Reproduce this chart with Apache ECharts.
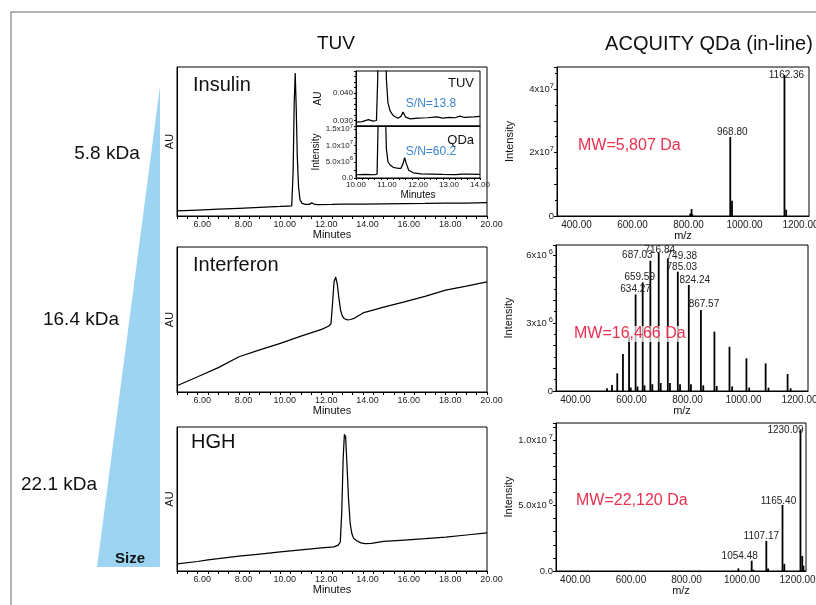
<!DOCTYPE html>
<html><head><meta charset="utf-8">
<script src="https://cdn.jsdelivr.net/npm/echarts@6/dist/echarts.min.js"></script>
<style>html,body{margin:0;padding:0;background:#fff}#c{width:816px;height:605px}</style>
</head><body><div id="c"></div><script>
// ---------- DATA ----------
const panelNames = ['Insulin', 'Interferon', 'HGH'];
const sizeLabels = ['5.8 kDa', '16.4 kDa', '22.1 kDa'];
const mwLabels = ['MW=5,807 Da', 'MW=16,466 Da', 'MW=22,120 Da'];
const minuteTicks = [6, 8, 10, 12, 14, 16, 18, 20];
const insetMinuteTicks = [10, 11, 12, 13, 14];
const mzTicks = [400, 600, 800, 1000, 1200];

// TUV chromatograms (minutes, relative AU)
const insulinTime = [5, 6, 7, 8, 9, 10, 10.4, 10.55, 10.62, 10.67, 10.72, 10.77, 10.82, 10.88, 10.95, 11.05, 11.2, 11.4, 11.52, 11.62, 11.8, 12.5, 13, 14, 15, 16, 17, 18, 19, 20];
const insulinAU   = [0.034, 0.040, 0.046, 0.052, 0.058, 0.064, 0.067, 0.068, 0.30, 0.75, 0.96, 0.72, 0.40, 0.20, 0.11, 0.085, 0.078, 0.078, 0.088, 0.080, 0.077, 0.078, 0.080, 0.080, 0.082, 0.083, 0.084, 0.086, 0.087, 0.089];

const interferonTime = [5, 6, 7, 8, 9, 10, 11, 12, 12.35, 12.45, 12.52, 12.6, 12.68, 12.76, 12.84, 12.92, 13.0, 13.1, 13.25, 13.4, 13.6, 14, 15, 16, 17, 18, 19, 20];
const interferonAU   = [0.043, 0.105, 0.168, 0.243, 0.29, 0.335, 0.385, 0.432, 0.455, 0.47, 0.60, 0.76, 0.793, 0.74, 0.64, 0.56, 0.525, 0.505, 0.497, 0.50, 0.51, 0.545, 0.585, 0.621, 0.66, 0.703, 0.73, 0.759];

const hghTime = [5, 6, 6.5, 7, 8, 9, 10, 11, 12, 12.6, 12.8, 12.9, 12.97, 13.04, 13.1, 13.16, 13.22, 13.3, 13.38, 13.46, 13.55, 13.7, 13.9, 14.1, 14.4, 15, 16, 17, 18, 19, 20];
const hghAU   = [0.049, 0.066, 0.078, 0.086, 0.104, 0.118, 0.132, 0.146, 0.160, 0.168, 0.18, 0.20, 0.40, 0.78, 0.95, 0.93, 0.75, 0.50, 0.33, 0.26, 0.225, 0.21, 0.195, 0.19, 0.192, 0.205, 0.215, 0.225, 0.236, 0.25, 0.264];

// Insulin inset (TUV AU and QDa intensity)
const insetTuvTime = [10.0, 10.2, 10.4, 10.55, 10.66, 10.7, 10.73, 10.95, 10.98, 11.03, 11.1, 11.2, 11.35, 11.45, 11.52, 11.6, 11.75, 12.0, 12.3, 12.6, 12.8, 13.0, 13.2, 13.35, 13.5, 13.8, 14.0];
const insetTuvAU   = [0.0294, 0.0296, 0.0303, 0.0298, 0.0300, 0.045, 0.07, 0.07, 0.045, 0.0365, 0.0335, 0.0318, 0.0308, 0.0315, 0.0331, 0.0312, 0.0306, 0.0309, 0.0310, 0.0313, 0.0309, 0.0311, 0.0310, 0.0316, 0.0311, 0.0313, 0.0315];
const insetQdaTime = [10.0, 10.3, 10.6, 10.68, 10.72, 10.95, 10.98, 11.03, 11.1, 11.2, 11.35, 11.45, 11.52, 11.57, 11.62, 11.7, 11.85, 12.1, 12.35, 12.4, 12.45, 12.8, 13.2, 13.45, 13.5, 13.55, 14.0];
const insetQdaInt  = [1.0e6, 1.1e6, 1.0e6, 1.2e6, 2.0e7, 2.0e7, 9.0e6, 5.0e6, 4.0e6, 3.3e6, 3.0e6, 3.0e6, 4.5e6, 6.25e6, 4.5e6, 2.4e6, 1.6e6, 1.3e6, 1.2e6, 1.8e6, 1.2e6, 1.1e6, 1.05e6, 1.2e6, 1.8e6, 1.2e6, 1.1e6];

// QDa mass spectra (m/z, intensity)
const insulinMz  = [826.0, 830.6, 833.5, 968.80, 975.0, 1162.36, 1168.5];
const insulinInt = [0.08e7, 0.22e7, 0.05e7, 2.49e7, 0.48e7, 4.45e7, 0.20e7];
const insulinLabeled = [968.80, 1162.36];

const interferonMz  = [532.2, 549.9, 568.8, 589.1, 610.9, 634.27, 659.59, 687.03, 716.84, 749.38, 785.03, 824.24, 867.57, 915.8, 969.6, 1030.1, 1098.7, 1177.1];
const interferonInt = [0.12e6, 0.26e6, 0.78e6, 1.63e6, 2.40e6, 4.26e6, 4.79e6, 5.75e6, 6.10e6, 5.85e6, 5.26e6, 4.68e6, 3.57e6, 2.62e6, 1.95e6, 1.44e6, 1.22e6, 0.75e6];
const interferonAdductMz  = [617, 641, 666, 694, 724, 757, 793, 832, 876, 924, 979, 1040, 1109, 1188];
const interferonAdductInt = [0.15e6, 0.2e6, 0.25e6, 0.3e6, 0.35e6, 0.35e6, 0.3e6, 0.3e6, 0.25e6, 0.22e6, 0.2e6, 0.15e6, 0.15e6, 0.12e6];
const interferonLabeled = [634.27, 659.59, 687.03, 716.84, 749.38, 785.03, 824.24, 867.57];

const hghMz  = [1006.5, 1054.48, 1061.0, 1107.17, 1113.5, 1165.40, 1172.0, 1230.09, 1236.5, 1241.0];
const hghInt = [0.2e6, 0.79e6, 0.1e6, 2.29e6, 0.2e6, 5.04e6, 0.55e6, 10.76e6, 1.15e6, 0.4e6];
const hghLabeled = [1054.48, 1107.17, 1165.40, 1230.09];

// ---------- STYLE ----------
const FONT = 'Liberation Sans, Arial, sans-serif';
const labelOffsets = {
  '968.80': [2, 0], '1162.36': [2, 5],
  '634.27': [0, 0], '659.59': [-3, 0], '687.03': [-13, 0], '716.84': [1, 3],
  '749.38': [14, 3], '785.03': [4, 0], '824.24': [6, 0], '867.57': [3, -1],
  '1230.09': [-15, 5], '1165.40': [-4, 1], '1107.17': [-5, 0], '1054.48': [-12, 1]
};
const grids = [
  {left: 177, top: 67, width: 310, height: 149},
  {left: 177, top: 247, width: 310, height: 145},
  {left: 177, top: 427, width: 310, height: 144},
  {left: 356, top: 71, width: 124, height: 55, backgroundColor: '#fff'},
  {left: 356, top: 126, width: 124, height: 52, backgroundColor: '#fff'},
  {left: 557, top: 67, width: 252, height: 149},
  {left: 556, top: 245, width: 252, height: 146},
  {left: 556, top: 423, width: 250, height: 148}
].map(g => Object.assign({show: true, borderColor: '#000', borderWidth: 1, containLabel: false, outerBoundsMode: 'none'}, g));

const axisLine = {show: true, onZero: false, lineStyle: {color: '#000', width: 1}};

function minutesAxis(i) {
  return {type: 'value', gridIndex: i, min: 5, max: 20, interval: 0.5,
    name: 'Minutes', nameLocation: 'middle', nameGap: 13,
    nameTextStyle: {fontFamily: FONT, fontSize: 11, color: '#111'},
    axisLine, splitLine: {show: false},
    axisTick: {show: true, length: 3, lineStyle: {color: '#000'}},
    axisLabel: {customValues: minuteTicks, formatter: v => v.toFixed(2), fontFamily: FONT, fontSize: 9, color: '#222', margin: 4, padding: [0, 0, 0, 9]}};
}
function auAxis(i) {
  return {type: 'value', gridIndex: i, min: 0, max: 1,
    name: 'AU', nameLocation: 'middle', nameGap: 2, nameRotate: 90,
    nameTextStyle: {fontFamily: FONT, fontSize: 11, color: '#111'},
    axisLine, splitLine: {show: false}, axisTick: {show: false}, axisLabel: {show: false}};
}
function mzAxis(i) {
  return {type: 'value', gridIndex: i, min: 350, max: 1250,
    name: 'm/z', nameLocation: 'middle', nameGap: 13,
    nameTextStyle: {fontFamily: FONT, fontSize: 11, color: '#111'},
    axisLine, splitLine: {show: false}, axisTick: {show: false},
    axisLabel: {customValues: mzTicks, formatter: v => v.toFixed(2), fontFamily: FONT, fontSize: 10, color: '#222', margin: 4, padding: [0, 0, 0, 11]}};
}
const supRich = {a: {fontFamily: FONT, fontSize: 9.5, color: '#222'}, s: {fontFamily: FONT, fontSize: 7.5, color: '#222', padding: [0, 0, 7, 0]}};
function intensityAxis(i, max, interval, labelVals, fmt) {
  return {type: 'value', gridIndex: i, min: 0, max, interval,
    name: 'Intensity', nameLocation: 'middle', nameGap: 42, nameRotate: 90,
    nameTextStyle: {fontFamily: FONT, fontSize: 11, color: '#111'},
    axisLine, splitLine: {show: false},
    axisTick: {show: true, length: 3, lineStyle: {color: '#000'}},
    minorTick: {show: true, splitNumber: 2, length: 2, lineStyle: {color: '#000'}},
    axisLabel: {customValues: labelVals, formatter: fmt, rich: supRich, margin: 3, fontFamily: FONT, fontSize: 9.5, color: '#222'}};
}

function toPairs(xs, ys) { return xs.map((x, i) => [x, ys[i]]); }
function spectrum(mz, inten, labeled) {
  return mz.map((m, i) => {
    const item = {value: [m, inten[i]]};
    if (labeled && labeled.indexOf(m) >= 0) {
      const key = m.toFixed(2);
      item.label = {show: true, position: 'top', distance: 0, offset: labelOffsets[key] || [0, 0],
        formatter: key, fontFamily: FONT, fontSize: 10, color: '#222'};
    }
    return item;
  });
}
const lineStyle = {color: '#000', width: 1.25};
function lineSeries(i, data) {
  return {type: 'line', xAxisIndex: i, yAxisIndex: i, data, symbol: 'none', smooth: false,
    lineStyle, clip: true, silent: true, animation: false};
}
function barSeries(i, data) {
  return {type: 'bar', xAxisIndex: i, yAxisIndex: i, data, barWidth: 1.8,
    itemStyle: {color: '#000'}, silent: true, animation: false};
}

const xAxes = [
  minutesAxis(0), minutesAxis(1), minutesAxis(2),
  {type: 'value', gridIndex: 3, min: 10, max: 14, interval: 0.2, axisLine, splitLine: {show: false},
   axisTick: {show: false}, axisLabel: {show: false}},
  {type: 'value', gridIndex: 4, min: 10, max: 14, interval: 0.2,
   name: 'Minutes', nameLocation: 'middle', nameGap: 12,
   nameTextStyle: {fontFamily: FONT, fontSize: 10, color: '#111'},
   axisLine, splitLine: {show: false},
   axisTick: {show: true, length: 2, lineStyle: {color: '#000'}},
   axisLabel: {customValues: insetMinuteTicks, formatter: v => v.toFixed(2), fontFamily: FONT, fontSize: 8, color: '#222', margin: 3}},
  mzAxis(5), mzAxis(6), mzAxis(7)
];
const yAxes = [
  auAxis(0), auAxis(1), auAxis(2),
  {type: 'value', gridIndex: 3, min: 0.028, max: 0.048, interval: 0.002,
   name: 'AU', nameLocation: 'middle', nameGap: 33, nameRotate: 90,
   nameTextStyle: {fontFamily: FONT, fontSize: 10, color: '#111'},
   axisLine, splitLine: {show: false},
   axisTick: {show: true, length: 2, lineStyle: {color: '#000'}},
   axisLabel: {customValues: [0.030, 0.040], formatter: v => v.toFixed(3), fontFamily: FONT, fontSize: 8, color: '#222', margin: 3}},
  {type: 'value', gridIndex: 4, min: 0, max: 1.6e7, interval: 2.5e6,
   name: 'Intensity', nameLocation: 'middle', nameGap: 35, nameRotate: 90,
   nameTextStyle: {fontFamily: FONT, fontSize: 10, color: '#111'},
   axisLine, splitLine: {show: false},
   axisTick: {show: true, length: 2, lineStyle: {color: '#000'}},
   axisLabel: {customValues: [0, 5e6, 1e7, 1.5e7], margin: 3, rich: {a: {fontFamily: FONT, fontSize: 8, color: '#222'}, s: {fontFamily: FONT, fontSize: 6, color: '#222', padding: [0, 0, 6, 0]}},
     formatter: v => v === 0 ? '{a|0.0}' : (v === 5e6 ? '{a|5.0x10}{s|6}' : (v === 1e7 ? '{a|1.0x10}{s|7}' : '{a|1.5x10}{s|7}'))}},
  intensityAxis(5, 4.7e7, 1e7, [0, 2e7, 4e7], v => v === 0 ? '{a|0}' : '{a|' + (v / 1e7) + 'x10}{s|7}'),
  intensityAxis(6, 6.44e6, 1e6, [0, 3e6, 6e6], v => v === 0 ? '{a|0}' : '{a|' + (v / 1e6) + 'x10}{s| 6}'),
  intensityAxis(7, 1.13e7, 1e6, [0, 5e6, 1e7], v => v === 0 ? '{a|0.0}' : (v === 5e6 ? '{a|5.0x10}{s| 6}' : '{a|1.0x10}{s| 7}'))
];
yAxes[7].minorTick = {show: false};

const series = [
  lineSeries(0, toPairs(insulinTime, insulinAU)),
  lineSeries(1, toPairs(interferonTime, interferonAU)),
  lineSeries(2, toPairs(hghTime, hghAU)),
  lineSeries(3, toPairs(insetTuvTime, insetTuvAU)),
  lineSeries(4, toPairs(insetQdaTime, insetQdaInt)),
  barSeries(5, spectrum(insulinMz, insulinInt, insulinLabeled)),
  barSeries(6, spectrum(interferonMz, interferonInt, interferonLabeled).concat(spectrum(interferonAdductMz, interferonAdductInt, null))),
  barSeries(7, spectrum(hghMz, hghInt, hghLabeled))
];

function txt(x, y, text, size, opts) {
  return {type: 'text', x, y, z: 100, silent: true,
    style: Object.assign({text, font: size + 'px ' + FONT, fill: '#111', align: 'center', verticalAlign: 'middle'}, opts || {})};
}
const graphic = [
  {type: 'polyline', z: 0, silent: true, shape: {points: [[11, 605], [11, 12], [816, 12]]}, style: {stroke: '#9a9a9a', lineWidth: 1.5, fill: null}},
  {type: 'polygon', z: 0, silent: true, shape: {points: [[160, 86], [160, 567], [97, 567]]}, style: {fill: '#9dd4f2'}},
  txt(130, 559, 'Size', 15, {font: 'bold 15px ' + FONT}),
  txt(336, 44, 'TUV', 19),
  txt(709, 44, 'ACQUITY QDa (in-line)', 20),
  txt(107, 154, sizeLabels[0], 19),
  txt(81, 320, sizeLabels[1], 19),
  txt(59, 485, sizeLabels[2], 19),
  txt(193, 85, panelNames[0], 20, {align: 'left'}),
  txt(193, 265, panelNames[1], 20, {align: 'left'}),
  txt(191, 442, panelNames[2], 20, {align: 'left'}),
  txt(474, 83, 'TUV', 13, {align: 'right'}),
  txt(474, 140, 'QDa', 13, {align: 'right'}),
  txt(431, 104, 'S/N=13.8', 12, {fill: '#3a86d0'}),
  txt(431, 152, 'S/N=60.2', 12, {fill: '#3a86d0'}),
  txt(578, 146, mwLabels[0], 16, {align: 'left', fill: '#e8304f', backgroundColor: 'rgba(255,255,255,0.7)'}),
  txt(574, 334, mwLabels[1], 16, {align: 'left', fill: '#e8304f', backgroundColor: 'rgba(255,255,255,0.7)'}),
  txt(576, 501, mwLabels[2], 16, {align: 'left', fill: '#e8304f', backgroundColor: 'rgba(255,255,255,0.7)'})
];

const chart = echarts.init(document.getElementById('c'), null, {renderer: 'canvas'});
chart.setOption({animation: false, backgroundColor: '#fff', grid: grids, xAxis: xAxes, yAxis: yAxes, series, graphic});
</script></body></html>
